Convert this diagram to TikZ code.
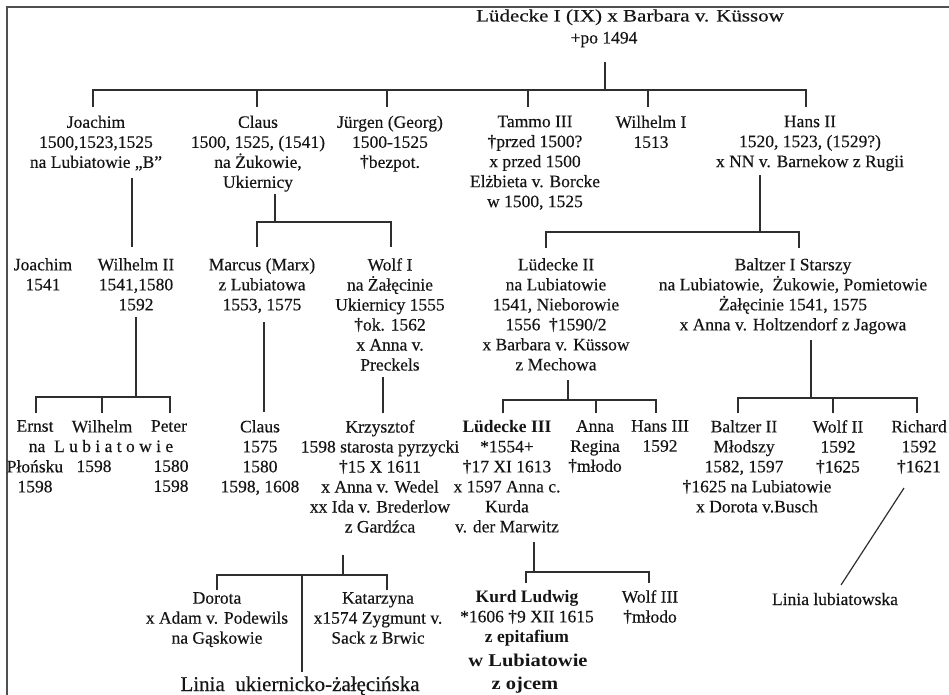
\documentclass[tikz,border=0pt]{standalone}
\usepackage{fontspec}
\setmainfont{Liberation Serif}[UprightFeatures={FakeBold=0.35}]
\usepackage{graphicx}
\definecolor{txt}{HTML}{151515}
\definecolor{ln}{HTML}{2E2E2E}
\definecolor{frm}{HTML}{505050}
\newcommand{\dagx}{{\bfseries †}}
\newcommand{\rfs}{\fontsize{17.5}{20}\selectfont}
\begin{document}
\begin{tikzpicture}[x=1pt,y=-1pt,
  person/.style={anchor=north, align=center, inner sep=0pt, font=\rfs, text=txt},
  single/.style={anchor=base, inner sep=0pt, font=\rfs, text=txt},
  conn/.style={draw=ln, line width=1.2pt},
  frameline/.style={draw=frm, line width=1.6pt}]
\useasboundingbox (0,0) rectangle (949,695);
\draw[frameline] (7,705) -- (7,7) -- (960,7);

% generation 1
\node[single] (title) at (630,21.5) {\scalebox{1.2}[1]{Lüdecke I (IX) x Barbara v. Küssow}};
\node[single] (titledate) at (604,43.5) {+po 1494};

% generation 2
\node[person] (joachim) at (96,115.5) {Joachim\\1500,1523,1525\\na Lubiatowie „B”};
\node[person] (claus) at (258,115.5) {Claus\\1500, 1525, (1541)\\na Żukowie,\\Ukiernicy};
\node[person] (jurgen) at (390,115.5) {Jürgen (Georg)\\1500-1525\\\dagx bezpot.};
\node[person] (tammo) at (535,115.5) {Tammo III\\\dagx przed 1500?\\x przed 1500\\Elżbieta v. Borcke\\w 1500, 1525};
\node[person] (wilhelmI) at (651,115.5) {Wilhelm I\\1513};
\node[person] (hansII) at (810,115.5) {Hans II\\1520, 1523, (1529?)\\x NN v. Barnekow z Rugii};

% generation 3
\node[person] (joachimB) at (43,258) {Joachim\\1541};
\node[person] (wilhelmII) at (136,258) {Wilhelm II\\1541,1580\\1592};
\node[person] (marcus) at (262,258) {Marcus (Marx)\\z Lubiatowa\\1553, 1575};
\node[person] (wolfI) at (390,258) {Wolf I\\na Żałęcinie\\Ukiernicy 1555\\\dagx ok. 1562\\x Anna v.\\Preckels};
\node[person] (ludeckeII) at (556,258) {Lüdecke II\\na Lubiatowie\\1541, Nieborowie\\1556\ \ \dagx 1590/2\\x Barbara v. Küssow\\z Mechowa};
\node[person] (baltzerI) at (793,258) {Baltzer I Starszy\\na Lubiatowie,\ \ Żukowie, Pomietowie\\Żałęcinie 1541, 1575\\x Anna v. Holtzendorf z Jagowa};

% generation 4
\node[person] (ernst) at (35,420) {Ernst};
\node[person] (wilhelm) at (102,420) {Wilhelm};
\node[person] (peter) at (169,420) {Peter};
\node[single] (lubtxt) at (101,452) {na\ \ L u b i a t o w i e};
\node[person] (ernstB) at (35,460) {Płońsku\\1598};
\node[single] (wilhelmB) at (94,472) {1598};
\node[person] (peterB) at (171,460) {1580\\1598};
\node[person] (clausB) at (260,420) {Claus\\1575\\1580\\1598, 1608};
\node[person] (krzysztof) at (380,420) {Krzysztof\\1598 starosta pyrzycki\\\dagx 15 X 1611\\x Anna v. Wedel\\xx Ida v. Brederlow\\z Gardźca};
\node[person] (ludeckeIII) at (507,420) {\textbf{Lüdecke III}\\*1554+\\\dagx 17 XI 1613\\x 1597 Anna c.\\Kurda\\v. der Marwitz};
\node[person] (anna) at (595,420) {Anna\\Regina\\\dagx młodo};
\node[person] (hansIII) at (660,420) {Hans III\\1592};
\node[person] (baltzerII) at (744,420) {Baltzer II\\Młodszy\\1582, 1597};
\node[person] (baltzerIIb) at (757,480) {\dagx 1625 na Lubiatowie\\x Dorota v.Busch};
\node[person] (wolfII) at (838,420) {Wolf II\\1592\\\dagx 1625};
\node[person] (richard) at (919,420) {Richard\\1592\\\dagx 1621};

% generation 5
\node[person] (dorota) at (217,592) {Dorota\\x Adam v. Podewils\\na Gąskowie};
\node[person] (katarzyna) at (378,592) {Katarzyna\\x1574 Zygmunt v.\\Sack z Brwic};
\node[person] (kurd) at (527,590) {\textbf{Kurd Ludwig}\\*1606 \dagx 9 XII 1615\\\textbf{z epitafium}};
\node[single] (kurdB) at (528,666) {\scalebox{1.14}[1]{\fontsize{18}{20}\selectfont\bfseries w Lubiatowie}};
\node[single] (kurdC) at (525,689) {\scalebox{1.14}[1]{\fontsize{18}{20}\selectfont\bfseries z ojcem}};
\node[person] (wolfIII) at (650,590) {Wolf III\\\dagx młodo};
\node[single] (liniaUk) at (300,691) {\fontsize{21}{24}\selectfont Linia\ \ ukiernicko-żałęcińska};
\node[single] (liniaLub) at (835,605) {Linia lubiatowska};

% connectors
% F1
\draw[conn] ([xshift=1pt,yshift=-18.5pt]titledate.base) -- ++(0,28);
\draw[conn] ([xshift=-3pt,yshift=8.5pt]joachim.north) -- ++(0,-17) -| ([xshift=-4pt,yshift=8.5pt]hansII.north);
\draw[conn] ([xshift=-1pt,yshift=8.5pt]claus.north) -- ++(0,-17);
\draw[conn] ([xshift=-3pt,yshift=8.5pt]jurgen.north) -- ++(0,-17);
\draw[conn] ([xshift=-7pt,yshift=8.5pt]tammo.north) -- ++(0,-17);
\draw[conn] ([xshift=-3pt,yshift=8.5pt]wilhelmI.north) -- ++(0,-17);
% F2
\draw[conn] ([xshift=-4pt,yshift=11pt]wilhelmII.north) -- ++(0,-69);
% F3
\draw[conn] ([xshift=17pt,yshift=-78.5pt]claus.north) -- ++(0,28);
\draw[conn] ([xshift=-5pt,yshift=11pt]marcus.north) -- ++(0,-25) -| ([xshift=1pt,yshift=11pt]wolfI.north);
% F4
\draw[conn] ([xshift=-50pt,yshift=-59.5pt]hansII.north) -- ++(0,57);
\draw[conn] ([xshift=-10pt,yshift=10pt]ludeckeII.north) -- ++(0,-16) -| ([xshift=6pt,yshift=10pt]baltzerI.north);
% F5
\draw[conn] ([yshift=-59pt]wilhelmII.north) -- ++(0,80);
\draw[conn] ([xshift=1pt,yshift=7pt]ernst.north) -- ++(0,-16) -| ([xshift=1pt,yshift=7pt]peter.north);
\draw[conn] ([yshift=7pt]wilhelm.north) -- ++(0,-16);
% F6, F7
\draw[conn] ([xshift=4pt,yshift=8pt]clausB.north) -- ++(0,-90);
\draw[conn] ([xshift=3pt,yshift=7pt]krzysztof.north) -- ++(0,-36);
% F8
\draw[conn] ([xshift=12pt,yshift=-122pt]ludeckeII.north) -- ++(0,20);
\draw[conn] ([xshift=-4pt,yshift=7pt]ludeckeIII.north) -- ++(0,-13) -| ([xshift=-4pt,yshift=7pt]hansIII.north);
\draw[conn] ([xshift=1pt,yshift=7pt]anna.north) -- ++(0,-13);
% F9
\draw[conn] ([xshift=18pt,yshift=-82pt]baltzerI.north) -- ++(0,58);
\draw[conn] ([xshift=-6pt,yshift=7pt]baltzerII.north) -- ++(0,-15) -| ([xshift=-2pt,yshift=7pt]richard.north);
\draw[conn] ([xshift=-5pt,yshift=7pt]wolfII.north) -- ++(0,-15);
% F10
\draw[conn] ([xshift=-37pt,yshift=-135pt]krzysztof.north) -- ++(0,20);
\draw[conn] ([yshift=2pt]dorota.north) -- ++(0,-15) -| ([xshift=9pt,yshift=2pt]katarzyna.north);
\draw[conn] ([xshift=2pt,yshift=19pt]liniaUk.base) -- ++(0,-97);
% F11
\draw[conn] ([xshift=27pt,yshift=-122pt]ludeckeIII.north) -- ++(0,30);
\draw[conn] ([xshift=-1pt,yshift=7pt]kurd.north) -- ++(0,-11) -| ([xshift=-1pt,yshift=7pt]wolfIII.north);
% F12
\draw[conn] ([xshift=-15pt,yshift=-68pt]richard.north) -- ([xshift=6pt,yshift=20pt]liniaLub.base);
\end{tikzpicture}
\end{document}
